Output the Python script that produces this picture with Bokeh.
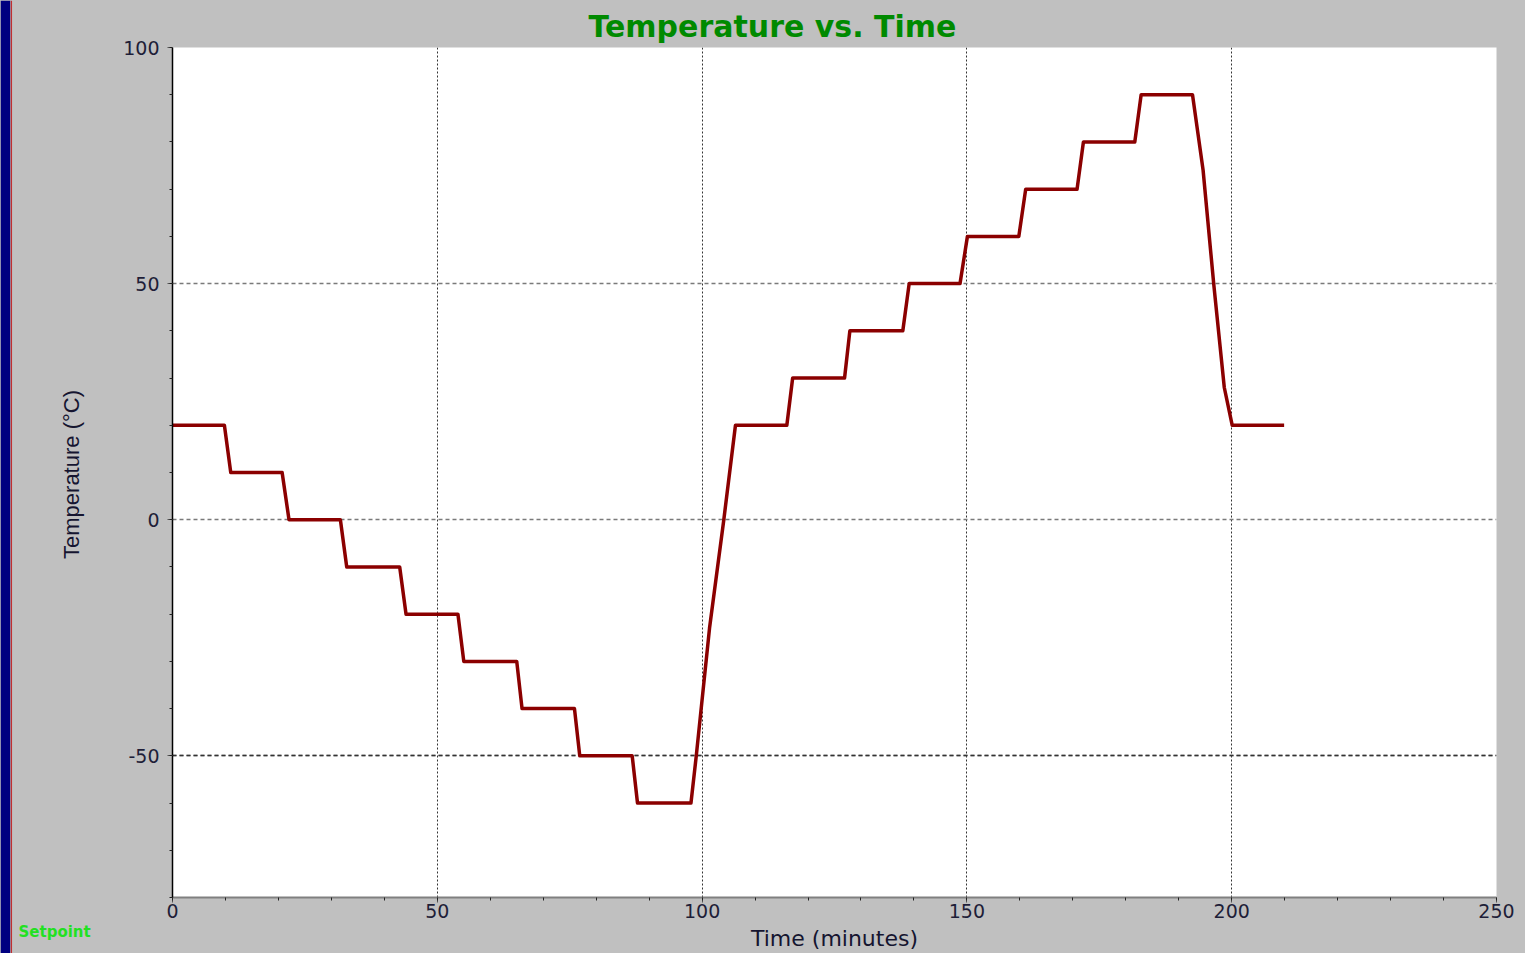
import math
from bokeh.plotting import figure
from bokeh.layouts import row
from bokeh.models import (Range1d, SingleIntervalTicker, FixedTicker, Grid, Label, Span)
from bokeh.embed import file_html
from bokeh.resources import INLINE

# ---- data ----
time_min = [0, 9.8, 11.0, 20.7, 22.0, 31.7, 32.9, 42.9, 44.1, 53.9,
            55.0, 65.0, 66.0, 75.9, 76.9, 86.8, 87.8, 97.9, 98.9, 101.4,
            104.1, 106.3, 116.0, 117.1, 126.9, 127.9, 137.9, 139.1, 148.7, 150.1,
            159.8, 161.1, 170.8, 172.0, 181.7, 182.9, 192.6, 193.6, 194.6, 196.6,
            198.6, 200.1, 209.9]
temp_c = [20, 20, 10, 10, 0, 0, -10, -10, -20, -20,
          -30, -30, -40, -40, -50, -50, -60, -60, -50, -23,
          0, 20, 20, 30, 30, 40, 40, 50, 50, 60,
          60, 70, 70, 80, 80, 90, 90, 82, 74, 50,
          28, 20, 20]
x_range = [0, 250]
y_range = [-80, 100]
y_ticks = [-50, 0, 50, 100]
title_text = "Temperature vs. Time"
x_label = "Time (minutes)"
y_label = "Temperature (\u00b0C)"
legend_text = "Setpoint"

H = 953
STRIP_W = 92
MAIN_W = 1433
BG = "#c0c0c0"
TICK_COLOR = "#1e1e38"

# ---- left strip: window edge, rotated y label, series name ----
strip = figure(width=STRIP_W, height=H, output_backend="svg", toolbar_location=None,
               x_range=Range1d(0, STRIP_W - 10), y_range=Range1d(0, H),
               x_axis_location=None, y_axis_location=None,
               min_border_left=10, min_border_right=0, min_border_top=0,
               min_border_bottom=0)
strip.frame_align = False
strip.background_fill_color = BG
strip.border_fill_color = "#000080"
strip.outline_line_color = None
strip.grid.visible = False
strip.add_layout(Span(location=0.8, dimension="height", line_color="#c03030",
                      line_width=1.5))
strip.add_layout(Label(x=61, y=H - 474, angle=math.pi / 2, text=y_label,
                       text_align="center", text_baseline="alphabetic",
                       text_font="Liberation Sans", text_font_size="22px",
                       text_color="#151530"))
strip.add_layout(Label(x=8, y=H - 931, text=legend_text, text_align="left",
                       text_baseline="alphabetic", text_font="DejaVu Sans",
                       text_font_style="bold", text_font_size="15px",
                       text_color="#22e022"))

# ---- main chart ----
p = figure(width=MAIN_W, height=H, output_backend="svg", toolbar_location=None,
           x_range=Range1d(*x_range), y_range=Range1d(*y_range),
           min_border_left=80, min_border_right=29, min_border_top=47,
           min_border_bottom=55)
p.frame_align = False
p.background_fill_color = "white"
p.border_fill_color = BG
p.outline_line_color = None

p.title.text = title_text
p.title.text_font = "DejaVu Sans"
p.title.text_font_style = "bold"
p.title.text_font_size = "30px"
p.title.text_color = "#008a00"
p.title.align = "left"
p.title.offset = 416
p.title.standoff = 8

p.line(time_min, temp_c, line_color="#8b0000", line_width=3.5, line_join="round")

for ax in (p.xaxis[0], p.yaxis[0]):
    ax.ticker = SingleIntervalTicker(interval=50, num_minor_ticks=5)
    ax.major_label_text_font = "DejaVu Sans"
    ax.major_label_text_font_size = "19px"
    ax.major_label_text_color = TICK_COLOR
    ax.major_tick_in = 0
    ax.major_tick_out = 5
    ax.minor_tick_in = 0
    ax.minor_tick_out = 3
    ax.major_tick_line_color = "#555555"
    ax.minor_tick_line_color = "#222222"

xa = p.xaxis[0]
xa.axis_label = x_label
xa.axis_label_text_font = "DejaVu Sans"
xa.axis_label_text_font_size = "22px"
xa.axis_label_text_font_style = "normal"
xa.axis_label_text_color = "#151530"
xa.axis_line_color = "#808080"
xa.axis_line_width = 2
xa.major_label_standoff = 1
xa.axis_label_standoff = 5

ya = p.yaxis[0]
ya.axis_line_color = "black"
ya.axis_line_width = 1.5
ya.major_label_standoff = 8
ya.major_label_overrides = {t: str(t) for t in y_ticks}

p.xgrid.grid_line_color = "#333333"
p.xgrid.grid_line_dash = "2 2"
p.xgrid.grid_line_width = 1
p.ygrid.ticker = FixedTicker(ticks=y_ticks)
p.ygrid.grid_line_color = "#7a7a7a"
p.ygrid.grid_line_dash = "4 3"
p.ygrid.grid_line_width = 1.5
p.add_layout(Grid(dimension=1, ticker=FixedTicker(ticks=[y_ticks[0]]),
                  grid_line_color="#333333", grid_line_dash="4 3",
                  grid_line_width=1.5))

layout = row(strip, p, spacing=0, styles={"background-color": BG})
open("out.html", "w").write(file_html(layout, INLINE))
